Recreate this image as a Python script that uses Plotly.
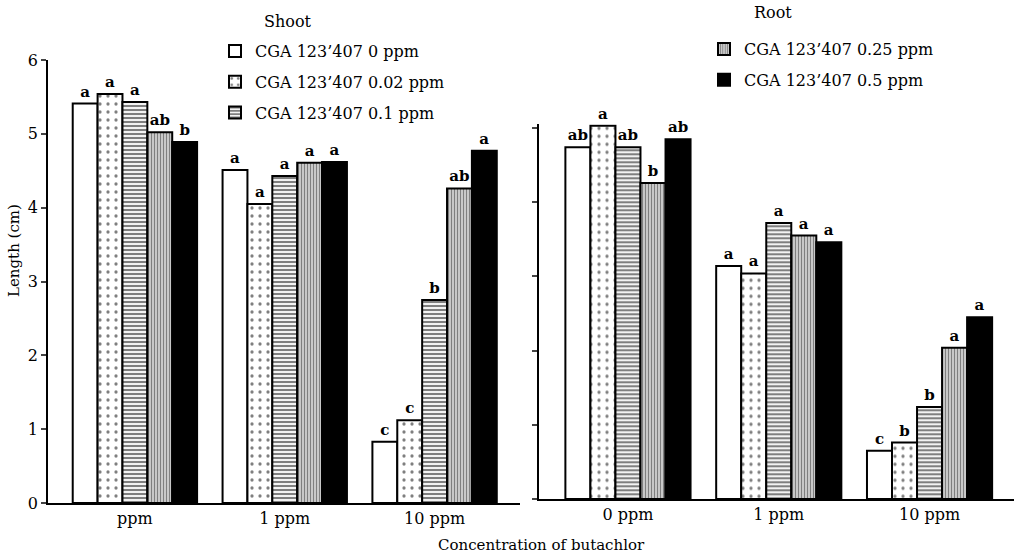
import plotly.graph_objects as go

# ---- data ----
shoot_categories = ["ppm", "1 ppm", "10 ppm"]
root_categories = ["0 ppm", "1 ppm", "10 ppm"]
series_names = [
    "CGA 123\u2019407 0 ppm",
    "CGA 123\u2019407 0.02 ppm",
    "CGA 123\u2019407 0.1 ppm",
    "CGA 123\u2019407 0.25 ppm",
    "CGA 123\u2019407 0.5 ppm",
]
shoot_0 = [5.41, 4.51, 0.83]
shoot_002 = [5.54, 4.05, 1.12]
shoot_01 = [5.43, 4.43, 2.75]
shoot_025 = [5.02, 4.61, 4.26]
shoot_05 = [4.89, 4.62, 4.77]
root_0 = [4.74, 3.14, 0.65]
root_002 = [5.03, 3.04, 0.76]
root_01 = [4.74, 3.72, 1.24]
root_025 = [4.26, 3.55, 2.04]
root_05 = [4.85, 3.46, 2.45]
shoot_letters = [["a", "a", "c"], ["a", "a", "c"], ["a", "a", "b"], ["ab", "a", "ab"], ["b", "a", "a"]]
root_letters = [["ab", "a", "c"], ["a", "a", "b"], ["ab", "a", "b"], ["b", "a", "a"], ["ab", "a", "a"]]
y_ticks_shoot = [0, 1, 2, 3, 4, 5, 6]
y_ticks_root = [0, 1, 2, 3, 4, 5]

shoot_values = [shoot_0, shoot_002, shoot_01, shoot_025, shoot_05]
root_values = [root_0, root_002, root_01, root_025, root_05]

FONT = "DejaVu Serif"
W, H = 1014, 556

patterns = [
    dict(shape="", bgcolor="white"),
    dict(shape=".", fgcolor="black", bgcolor="white", size=8, solidity=0.13),
    dict(shape="-", fgcolor="black", bgcolor="white", size=4, solidity=0.55),
    dict(shape="|", fgcolor="black", bgcolor="white", size=3, solidity=0.62),
    dict(shape="", bgcolor="black"),
]
fills = ["white", "white", "white", "white", "black"]

fig = go.Figure()
for i in range(5):
    legend_name = "legend" if i < 3 else "legend2"
    fig.add_trace(go.Bar(
        x=shoot_categories, y=shoot_values[i], name=series_names[i],
        xaxis="x", yaxis="y", legend=legend_name, legendgroup=f"g{i}",
        marker=dict(color=fills[i], pattern=patterns[i], line=dict(color="black", width=2)),
        text=shoot_letters[i], textposition="outside", cliponaxis=False,
        textfont=dict(family=FONT, size=15, color="black", weight="bold"),
    ))
for i in range(5):
    fig.add_trace(go.Bar(
        x=root_categories, y=root_values[i], name=series_names[i],
        xaxis="x2", yaxis="y2", showlegend=False, legendgroup=f"g{i}",
        marker=dict(color=fills[i], pattern=patterns[i], line=dict(color="black", width=2)),
        text=root_letters[i], textposition="outside", cliponaxis=False,
        textfont=dict(family=FONT, size=15, color="black", weight="bold"),
    ))

axis_common = dict(showgrid=False, zeroline=False, showline=True, linecolor="black", linewidth=1.6)

root_top = 5.05
fig.update_layout(
    width=W, height=H,
    margin=dict(l=0, r=0, t=0, b=0, autoexpand=False),
    paper_bgcolor="white", plot_bgcolor="white",
    font=dict(family=FONT, size=16, color="black"),
    barmode="group", bargap=0.17, bargroupgap=0,
    xaxis=dict(domain=[48 / W, 520 / W], range=[-0.58, 2.57], anchor="y",
               ticks="", tickfont=dict(size=16), automargin=False, **axis_common),
    yaxis=dict(domain=[(H - 503) / H, (H - 60) / H], range=[0, 6], anchor="x",
               tickvals=y_ticks_shoot, ticks="outside", ticklen=5, tickwidth=1.5,
               tickfont=dict(size=16), automargin=False, **axis_common),
    xaxis2=dict(domain=[539 / W, 1.0], range=[-0.59, 2.56], anchor="y2",
                ticks="", tickfont=dict(size=16), automargin=False, **axis_common),
    yaxis2=dict(domain=[(H - 499) / H, (H - (499 - root_top * 74.2)) / H], range=[0, root_top],
                anchor="x2", tickvals=y_ticks_root, showticklabels=False, ticks="outside",
                ticklen=5, tickwidth=1.5, automargin=False, **axis_common),
    legend=dict(x=215 / W, y=(H - 34) / H, xanchor="left", yanchor="top",
                font=dict(family=FONT, size=16), tracegroupgap=7,
                bgcolor="rgba(0,0,0,0)", traceorder="grouped"),
    legend2=dict(x=704 / W, y=(H - 32) / H, xanchor="left", yanchor="top",
                 font=dict(family=FONT, size=16), tracegroupgap=7,
                 bgcolor="rgba(0,0,0,0)", traceorder="grouped"),
    annotations=[
        dict(text="Shoot", x=288 / W, y=(H - 22) / H, xref="paper", yref="paper",
             xanchor="center", yanchor="middle", showarrow=False,
             font=dict(family=FONT, size=16)),
        dict(text="Root", x=773 / W, y=(H - 13) / H, xref="paper", yref="paper",
             xanchor="center", yanchor="middle", showarrow=False,
             font=dict(family=FONT, size=16)),
        dict(text="Length (cm)", x=14 / W, y=(H - 251) / H, xref="paper", yref="paper",
             xanchor="center", yanchor="middle", showarrow=False, textangle=-90,
             font=dict(family=FONT, size=15)),
        dict(text="Concentration of butachlor", x=541 / W, y=(H - 545) / H, xref="paper",
             yref="paper", xanchor="center", yanchor="middle", showarrow=False,
             font=dict(family=FONT, size=15)),
    ],
)

fig.write_html("out.html")
